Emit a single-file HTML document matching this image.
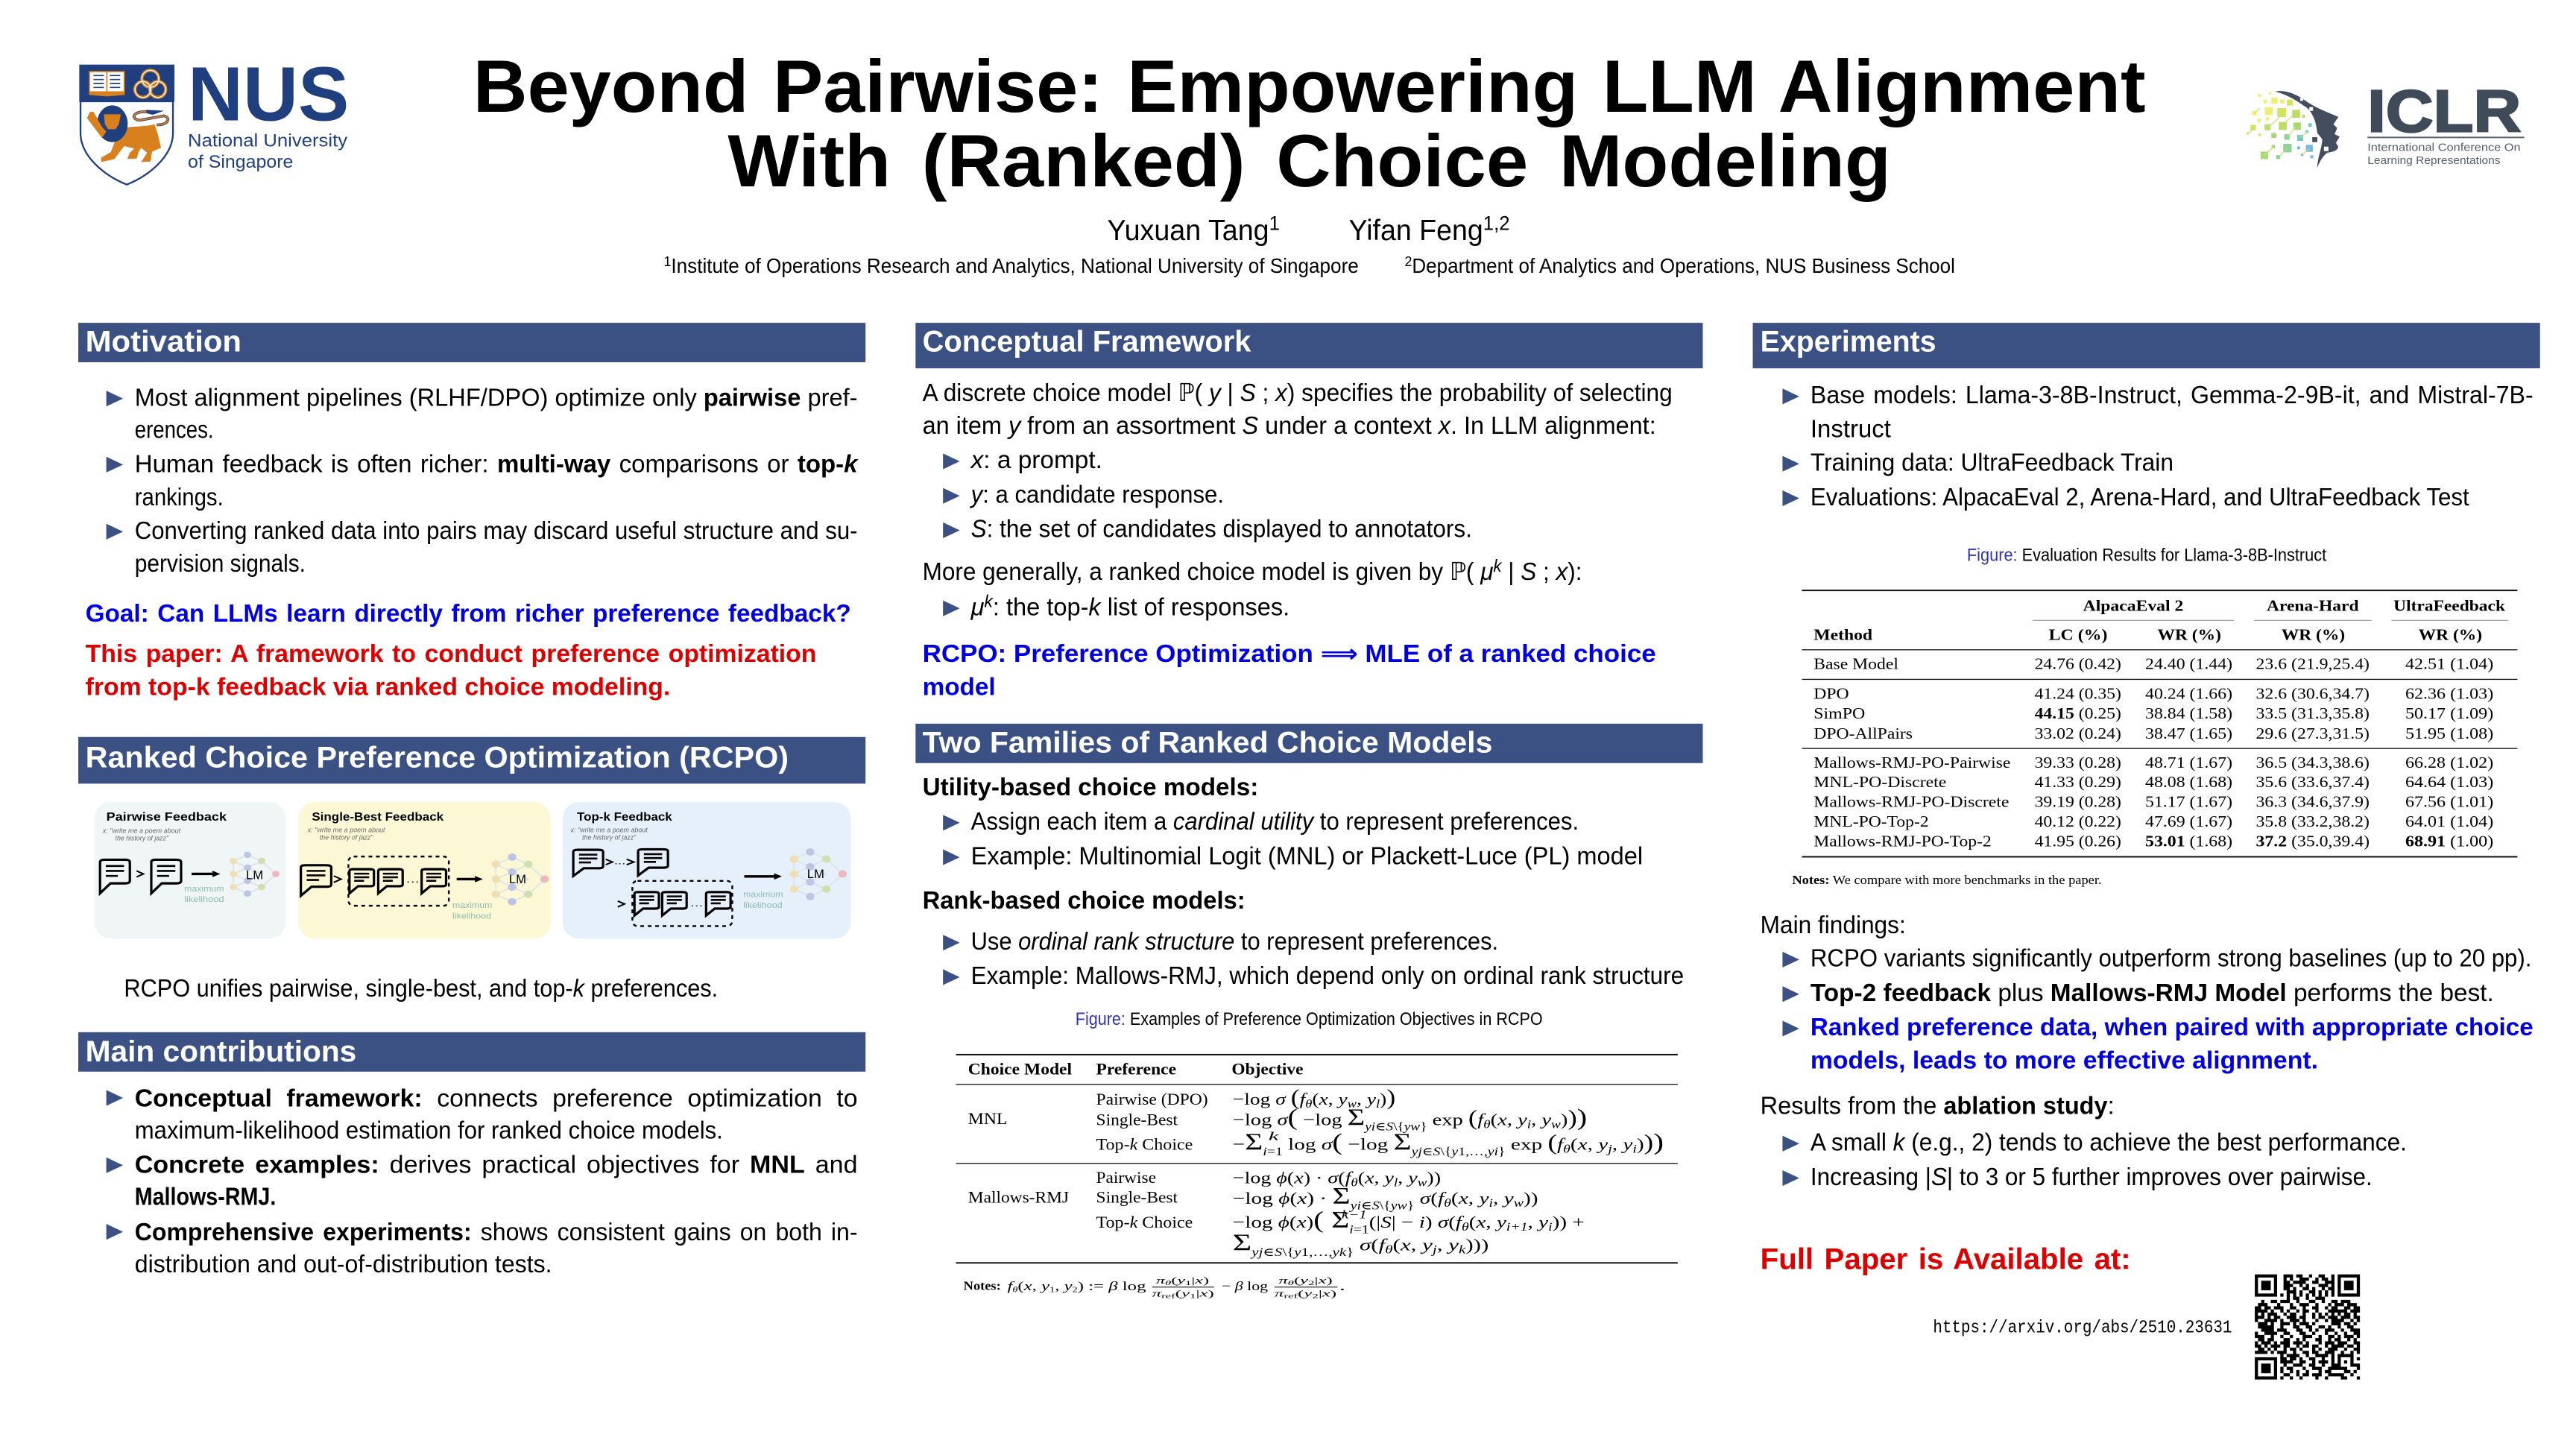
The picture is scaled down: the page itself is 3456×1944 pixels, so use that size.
<!DOCTYPE html>
<html><head><meta charset="utf-8"><title>Beyond Pairwise poster</title>
<style>
html,body{margin:0;padding:0;background:#fff}
svg{display:block}
text{font-family:"Liberation Sans","DejaVu Sans",sans-serif;font-size:15px;fill:#000;white-space:pre}
.b{font-weight:bold}
.i{font-style:italic}
.h{font-weight:bold;font-size:18.2px;fill:#fff}
.bl{fill:#0000e0;font-weight:bold}
.rd{fill:#dd0000;font-weight:bold}
.se text,.se{font-family:"Liberation Serif","DejaVu Serif",serif}
.s{font-size:46px}
.S{font-size:96px}
.P{font-size:88px}
.fb{font-size:30px}
.cap{font-size:72px}
.figt{font-size:48px;font-weight:bold}
.figi{font-size:27px;font-style:italic;fill:#666}
.ml{font-size:32px;fill:#8ebbae}
.lm{font-size:50px}
</style></head><body>
<svg xmlns="http://www.w3.org/2000/svg" width="3456" height="1944" viewBox="0 0 1568 882">
<defs>
<path id="t" d="M0,0L10.2,4.8L0,9.6Z" fill="#3b5183"/>
<g id="bub"><path d="M8,0H48Q57,0 57,10V85Q57,95 48,95H20L0,135V10Q0,0 8,0Z" fill="none" stroke="#000" stroke-width="3.2" vector-effect="non-scaling-stroke"/><path d="M11,25H46M11,45H46M11,65H34" stroke="#000" stroke-width="2.6" vector-effect="non-scaling-stroke"/></g>
<g id="net"><path d="M0,-77L-27,-52L0,-25L-27,0L0,28L-27,53L0,79L27,53L0,28L27,0L0,-25L27,-52Z M-27,-52L-27,0M-27,0L-27,53M27,-52L54,0L27,53" fill="none" stroke="#dfe4ea" stroke-width="2" vector-effect="non-scaling-stroke"/><g fill="#bcc6e4"><ellipse cx="0" cy="-77" rx="7" ry="13"/><ellipse cx="0" cy="-25" rx="7" ry="13"/><ellipse cx="0" cy="28" rx="7" ry="13"/><ellipse cx="0" cy="79" rx="7" ry="13"/></g><g fill="#f0dfb4"><ellipse cx="-27" cy="-52" rx="7" ry="13"/><ellipse cx="-27" cy="0" rx="7" ry="13"/><ellipse cx="-27" cy="53" rx="7" ry="13"/></g><g fill="#cfe0b0"><ellipse cx="27" cy="-52" rx="7" ry="13"/><ellipse cx="27" cy="53" rx="7" ry="13"/></g><ellipse cx="54" cy="0" rx="7" ry="13" fill="#eab9c0"/></g>
</defs>

<!-- NUS logo -->
<g transform="translate(45.38,31.76) scale(.15126)">
<rect x="19" y="50" width="383" height="150" fill="#1f3f7f"/>
<path d="M24,198H396V330C393,420 300,497 210,533C120,497 27,420 24,330Z" fill="#fff" stroke="#1f3f7f" stroke-width="7"/>
<path d="M60,78H130V160H60ZM130,78H200V160H130Z" fill="#fff" stroke="#d87f1e" stroke-width="5"/><path d="M58,160H202V172L130,178L58,172Z" fill="#d87f1e"/>
<path d="M76,94H118M76,110H118M76,126H118M76,142H118M142,94H184M142,110H184M142,126H184M142,142H184" stroke="#1f3f7f" stroke-width="5" fill="none"/>
<g fill="none" stroke="#d87f1e" stroke-width="13"><circle cx="305" cy="107" r="34"/><circle cx="275" cy="150" r="32"/><circle cx="335" cy="150" r="32"/></g>
<g fill="none" stroke="#fff" stroke-width="4"><circle cx="305" cy="107" r="34"/><circle cx="275" cy="150" r="32"/><circle cx="335" cy="150" r="32"/></g>
<path d="M330,292C372,296 392,265 360,256L262,274C225,270 232,236 292,240" fill="none" stroke="#1f3f7f" stroke-width="11"/>
<path d="M330,292C372,296 392,265 360,256L262,274C225,270 232,236 292,240" fill="none" stroke="#d87f1e" stroke-width="6"/>
<path d="M288,232L360,236L315,252L290,246Z" fill="#1f3f7f"/>
<path d="M190,305C240,298 290,300 322,290L335,330L348,385L312,400L306,440L268,442L292,405L268,385L258,402L250,428L212,430L222,405L240,388L200,378L160,430L108,442L106,425L146,402L165,352Z" fill="#d87f1e"/>
<ellipse cx="152" cy="288" rx="62" ry="74" fill="#1f3f7f"/>
<path d="M62,240L76,240L110,300L128,320L110,345L80,305L50,265Z" fill="#d87f1e"/>
<path d="M118,250H186L178,290L165,310H135L122,290Z" fill="#d87f1e"/>
<text x="456" y="275" class="b" style="font-size:308px;fill:#1f3f7f" textLength="649" lengthAdjust="spacingAndGlyphs">NUS</text>
<text x="456" y="380" style="font-size:72px;fill:#1f3f7f" textLength="642" lengthAdjust="spacingAndGlyphs">National University</text>
<text x="456" y="465" style="font-size:72px;fill:#1f3f7f" textLength="424" lengthAdjust="spacingAndGlyphs">of Singapore</text>
</g>

<!-- ICLR logo -->
<g transform="translate(1361.35,45.38) scale(.15126)">
<path d="M155,68C200,60 240,80 270,100C310,130 360,150 410,170L390,200L405,215L395,240L415,250L400,275L410,290C405,310 385,310 365,315C345,330 335,350 325,375C325,340 345,290 345,260L325,235C320,180 300,140 270,125C235,100 200,80 155,68Z" fill="#434d5e"/>
<g fill="#fff"><rect x="256" y="94" width="12" height="12"/><rect x="293" y="131" width="15" height="15"/><rect x="352" y="290" width="18" height="18"/></g>
<g fill="#434d5e"><rect x="305" y="252" width="20" height="20"/><rect x="332" y="222" width="14" height="12"/><rect x="325" y="210" width="10" height="10"/></g>
<g fill="#f0ee72"><rect x="87" y="79" width="12" height="12"/><rect x="130" y="70" width="10" height="10"/><rect x="108" y="101" width="14" height="14"/><rect x="140" y="93" width="25" height="25"/><rect x="176" y="100" width="16" height="16"/><rect x="114" y="131" width="32" height="32"/><rect x="63" y="146" width="18" height="18"/><rect x="117" y="171" width="14" height="14"/><rect x="83" y="178" width="14" height="14"/></g>
<g fill="#d4e45c"><rect x="203" y="101" width="24" height="24"/><rect x="164" y="135" width="36" height="36"/><rect x="56" y="203" width="22" height="22"/><rect x="40" y="232" width="10" height="10"/><rect x="88" y="238" width="10" height="10"/></g>
<g fill="#bcdc66"><rect x="224" y="142" width="32" height="32"/><rect x="113" y="200" width="24" height="24"/><rect x="170" y="191" width="32" height="32"/><rect x="264" y="162" width="12" height="12"/></g>
<g fill="#a6d874"><rect x="229" y="193" width="30" height="30"/><rect x="140" y="235" width="20" height="20"/><rect x="97" y="310" width="30" height="30"/><rect x="141" y="283" width="14" height="14"/></g>
<g fill="#8cd09a"><rect x="192" y="240" width="22" height="22"/><rect x="160" y="324" width="16" height="16"/><rect x="188" y="279" width="34" height="34"/></g>
<g fill="#74c8c4"><rect x="244" y="243" width="24" height="24"/><rect x="289" y="196" width="14" height="14"/><rect x="277" y="224" width="12" height="12"/></g>
<g fill="#74b8e8"><rect x="279" y="283" width="28" height="28"/><rect x="244" y="289" width="12" height="12"/><rect x="259" y="318" width="10" height="10"/><rect x="297" y="325" width="12" height="12"/></g>
<path d="M75,155L95,135M70,214L50,235M130,210L170,175L180,150M185,205L225,165M205,250L240,210M255,255L285,230M112,325L150,290M170,332L205,296M264,323L293,297" stroke="#c6e07a" stroke-width="4" fill="none"/>
<text x="527" y="230" class="b" style="font-size:240px;fill:#3f4b59;stroke:#3f4b59;stroke-width:7px" textLength="618" lengthAdjust="spacingAndGlyphs">ICLR</text>
<rect x="527" y="250" width="631" height="6" fill="#5a6573"/>
<text x="527" y="308" style="font-size:44px;fill:#555f6b" textLength="616" lengthAdjust="spacingAndGlyphs">International Conference On</text>
<text x="527" y="360" style="font-size:44px;fill:#555f6b" textLength="535" lengthAdjust="spacingAndGlyphs">Learning Representations</text>
</g>

<!-- Title -->
<text x="288" y="68" class="b" style="font-size:45px;word-spacing:2px" textLength="1018" lengthAdjust="spacingAndGlyphs">Beyond Pairwise: Empowering LLM Alignment</text>
<text x="443" y="113.4" class="b" style="font-size:45px;word-spacing:6px" textLength="708" lengthAdjust="spacingAndGlyphs">With (Ranked) Choice Modeling</text>
<text x="674" y="146" style="font-size:17.5px" textLength="105" lengthAdjust="spacingAndGlyphs">Yuxuan Tang<tspan dy="-6" style="font-size:12px">1</tspan></text>
<text x="821" y="146" style="font-size:17.5px" textLength="98" lengthAdjust="spacingAndGlyphs">Yifan Feng<tspan dy="-6" style="font-size:12px">1,2</tspan></text>
<text x="404" y="166" style="font-size:12.4px" textLength="423" lengthAdjust="spacingAndGlyphs"><tspan dy="-4" style="font-size:8.5px">1</tspan><tspan dy="4">Institute of Operations Research and Analytics, National University of Singapore</tspan></text>
<text x="855" y="166" style="font-size:12.4px" textLength="335" lengthAdjust="spacingAndGlyphs"><tspan dy="-4" style="font-size:8.5px">2</tspan><tspan dy="4">Department of Analytics and Operations, NUS Business School</tspan></text>

<!-- Banners -->
<g fill="#3b5183">
<rect x="47.65" y="196.5" width="479.2" height="24"/>
<rect x="47.65" y="448.6" width="479.2" height="28.4"/>
<rect x="47.65" y="628.3" width="479.2" height="24"/>
<rect x="557.3" y="196.5" width="479.2" height="27.7"/>
<rect x="557.3" y="440.5" width="479.2" height="24"/>
<rect x="1066.9" y="196.5" width="479.2" height="27.7"/>
</g>
<text x="52" y="214" class="h" textLength="95" lengthAdjust="spacingAndGlyphs">Motivation</text>
<text x="52" y="467" class="h" textLength="428" lengthAdjust="spacingAndGlyphs">Ranked Choice Preference Optimization (RCPO)</text>
<text x="52" y="646" class="h" textLength="165" lengthAdjust="spacingAndGlyphs">Main contributions</text>
<text x="561.5" y="214" class="h" textLength="200" lengthAdjust="spacingAndGlyphs">Conceptual Framework</text>
<text x="561.5" y="458" class="h" textLength="347" lengthAdjust="spacingAndGlyphs">Two Families of Ranked Choice Models</text>
<text x="1071.5" y="214" class="h" textLength="107" lengthAdjust="spacingAndGlyphs">Experiments</text>

<!-- Column 1 -->
<use href="#t" x="64.7" y="237.8"/><use href="#t" x="64.7" y="278"/><use href="#t" x="64.7" y="318.8"/>
<text x="82" y="247" textLength="440" lengthAdjust="spacingAndGlyphs">Most alignment pipelines (RLHF/DPO) optimize only <tspan class="b">pairwise</tspan> pref-</text>
<text x="82" y="266.5" textLength="48" lengthAdjust="spacingAndGlyphs">erences.</text>
<text x="82" y="287.5" style="word-spacing:1px" textLength="440" lengthAdjust="spacingAndGlyphs">Human feedback is often richer: <tspan class="b">multi-way</tspan> comparisons or <tspan class="b">top-</tspan><tspan class="b i">k</tspan></text>
<text x="82" y="307.5" textLength="54" lengthAdjust="spacingAndGlyphs">rankings.</text>
<text x="82" y="328" textLength="440" lengthAdjust="spacingAndGlyphs">Converting ranked data into pairs may discard useful structure and su-</text>
<text x="82" y="348" textLength="104" lengthAdjust="spacingAndGlyphs">pervision signals.</text>
<text x="52" y="378.5" class="bl" style="word-spacing:1px" textLength="466" lengthAdjust="spacingAndGlyphs">Goal: Can LLMs learn directly from richer preference feedback?</text>
<text x="52" y="403" class="rd" style="word-spacing:1px" textLength="445" lengthAdjust="spacingAndGlyphs">This paper: A framework to conduct preference optimization</text>
<text x="52" y="423" class="rd" textLength="356" lengthAdjust="spacingAndGlyphs">from top-k feedback via ranked choice modeling.</text>

<!-- RCPO figure, coordinates from anamorphic crop -->
<g transform="translate(40.84,471.9) scale(.3183,.15126)">
<rect x="52" y="108" width="366" height="550" rx="32" ry="66" fill="#eff6f5"/>
<rect x="442" y="108" width="483" height="550" rx="32" ry="66" fill="#fcf8d6"/>
<rect x="948" y="108" width="551" height="550" rx="32" ry="66" fill="#e6f0fb"/>

<text x="75" y="183" class="figt" textLength="230" lengthAdjust="spacingAndGlyphs">Pairwise Feedback</text>
<text x="68" y="232" class="figi" textLength="149" lengthAdjust="spacingAndGlyphs">x: "write me a poem about</text>
<text x="92" y="262" class="figi" textLength="102" lengthAdjust="spacingAndGlyphs">the history of jazz"</text>
<use href="#net" transform="translate(345,397)"/>
<use href="#bub" transform="translate(63,340)"/>
<use href="#bub" transform="translate(161,340)"/>
<path d="M133,385L146,397L133,409" fill="none" stroke="#000" stroke-width="2" vector-effect="non-scaling-stroke"/>
<path d="M238,397H282" stroke="#000" stroke-width="3.4" vector-effect="non-scaling-stroke"/><path d="M278,384L293,397L278,410Z"/>
<text x="342" y="418" class="lm" textLength="33" lengthAdjust="spacingAndGlyphs">LM</text>
<text x="224" y="467" class="ml" textLength="76" lengthAdjust="spacingAndGlyphs">maximum</text>
<text x="224" y="510" class="ml" textLength="76" lengthAdjust="spacingAndGlyphs">likelihood</text>

<text x="468" y="183" class="figt" textLength="252" lengthAdjust="spacingAndGlyphs">Single-Best Feedback</text>
<text x="460" y="229" class="figi" textLength="148" lengthAdjust="spacingAndGlyphs">x: "write me a poem about</text>
<text x="483" y="259" class="figi" textLength="102" lengthAdjust="spacingAndGlyphs">the history of jazz"</text>
<use href="#net" transform="translate(851,418) scale(1.15)"/>
<use href="#bub" transform="translate(447,362) scale(1.02,.91)"/>
<rect x="538" y="327" width="192" height="198" rx="10" ry="20" fill="none" stroke="#000" stroke-width="2.4" stroke-dasharray="5 5" vector-effect="non-scaling-stroke"/>
<use href="#bub" transform="translate(540,378) scale(.82,.72)"/>
<use href="#bub" transform="translate(595,378) scale(.82,.72)"/>
<use href="#bub" transform="translate(678,378) scale(.82,.72)"/>
<path d="M510,405L524,418L510,431" fill="none" stroke="#000" stroke-width="2" vector-effect="non-scaling-stroke"/>
<text x="648" y="432" style="font-size:40px" textLength="26" lengthAdjust="spacingAndGlyphs">...</text>
<path d="M745,418H785" stroke="#000" stroke-width="3.4" vector-effect="non-scaling-stroke"/><path d="M780,405L795,418L780,431Z"/>
<text x="845" y="435" class="lm" textLength="33" lengthAdjust="spacingAndGlyphs">LM</text>
<text x="737" y="533" class="ml" textLength="76" lengthAdjust="spacingAndGlyphs">maximum</text>
<text x="737" y="577" class="ml" textLength="74" lengthAdjust="spacingAndGlyphs">likelihood</text>

<text x="975" y="183" class="figt" textLength="182" lengthAdjust="spacingAndGlyphs">Top-k Feedback</text>
<text x="963" y="229" class="figi" textLength="147" lengthAdjust="spacingAndGlyphs">x: "write me a poem about</text>
<text x="985" y="259" class="figi" textLength="103" lengthAdjust="spacingAndGlyphs">the history of jazz"</text>
<use href="#net" transform="translate(1421,397) scale(1.15)"/>
<use href="#bub" transform="translate(968,300) scale(1,.78)"/>
<use href="#bub" transform="translate(1092,298) scale(1,.78)"/>
<path d="M1030,338L1043,349L1030,360M1070,338L1084,349L1070,360" fill="none" stroke="#000" stroke-width="2" vector-effect="non-scaling-stroke"/>
<text x="1046" y="358" style="font-size:36px" textLength="22" lengthAdjust="spacingAndGlyphs">...</text>
<path d="M1295,407H1358" stroke="#000" stroke-width="3.4" vector-effect="non-scaling-stroke"/><path d="M1352,394L1367,407L1352,420Z"/>
<rect x="1081" y="425" width="191" height="182" rx="10" ry="20" fill="none" stroke="#000" stroke-width="2.4" stroke-dasharray="5 5" vector-effect="non-scaling-stroke"/>
<path d="M1053,506L1066,518L1053,530" fill="none" stroke="#000" stroke-width="2" vector-effect="non-scaling-stroke"/>
<use href="#bub" transform="translate(1085,470) scale(.82,.7)"/>
<use href="#bub" transform="translate(1138,470) scale(.82,.7)"/>
<use href="#bub" transform="translate(1222,470) scale(.82,.7)"/>
<text x="1192" y="527" style="font-size:36px" textLength="24" lengthAdjust="spacingAndGlyphs">...</text>
<text x="1415" y="413" class="lm" textLength="33" lengthAdjust="spacingAndGlyphs">LM</text>
<text x="1293" y="490" class="ml" textLength="76" lengthAdjust="spacingAndGlyphs">maximum</text>
<text x="1293" y="533" class="ml" textLength="75" lengthAdjust="spacingAndGlyphs">likelihood</text>
</g>
<text x="75.5" y="606.6" textLength="361.5" lengthAdjust="spacingAndGlyphs">RCPO unifies pairwise, single-best, and top-<tspan class="i">k</tspan> preferences.</text>

<use href="#t" x="64.7" y="663.5"/><use href="#t" x="64.7" y="704.5"/><use href="#t" x="64.7" y="745"/>
<text x="82" y="673.5" style="word-spacing:4.5px" textLength="440" lengthAdjust="spacingAndGlyphs"><tspan class="b">Conceptual framework:</tspan> connects preference optimization to</text>
<text x="82" y="693" textLength="358" lengthAdjust="spacingAndGlyphs">maximum-likelihood estimation for ranked choice models.</text>
<text x="82" y="714" style="word-spacing:2px" textLength="440" lengthAdjust="spacingAndGlyphs"><tspan class="b">Concrete examples:</tspan> derives practical objectives for <tspan class="b">MNL</tspan> and</text>
<text x="82" y="733.5" class="b" textLength="86" lengthAdjust="spacingAndGlyphs">Mallows-RMJ.</text>
<text x="82" y="755" style="word-spacing:1.5px" textLength="440" lengthAdjust="spacingAndGlyphs"><tspan class="b">Comprehensive experiments:</tspan> shows consistent gains on both in-</text>
<text x="82" y="774.5" textLength="254" lengthAdjust="spacingAndGlyphs">distribution and out-of-distribution tests.</text>

<!-- Column 2 -->
<text x="561.5" y="244" textLength="456.5" lengthAdjust="spacingAndGlyphs">A discrete choice model ℙ( <tspan class="i">y</tspan> | <tspan class="i">S</tspan> ; <tspan class="i">x</tspan>) specifies the probability of selecting</text>
<text x="561.5" y="264" textLength="446.5" lengthAdjust="spacingAndGlyphs">an item <tspan class="i">y</tspan> from an assortment <tspan class="i">S</tspan> under a context <tspan class="i">x</tspan>. In LLM alignment:</text>
<use href="#t" x="574" y="276"/><use href="#t" x="574" y="297"/><use href="#t" x="574" y="318"/>
<text x="591" y="285" textLength="80" lengthAdjust="spacingAndGlyphs"><tspan class="i">x</tspan>: a prompt.</text>
<text x="591" y="306" textLength="154" lengthAdjust="spacingAndGlyphs"><tspan class="i">y</tspan>: a candidate response.</text>
<text x="591" y="327" textLength="305" lengthAdjust="spacingAndGlyphs"><tspan class="i">S</tspan>: the set of candidates displayed to annotators.</text>
<text x="561.5" y="353" textLength="401.5" lengthAdjust="spacingAndGlyphs">More generally, a ranked choice model is given by ℙ( <tspan class="i">μ</tspan><tspan dy="-5" style="font-size:10.5px" class="i">k</tspan><tspan dy="5"> | </tspan><tspan class="i">S</tspan> ; <tspan class="i">x</tspan>):</text>
<use href="#t" x="574" y="365.5"/>
<text x="591" y="374.5" textLength="194" lengthAdjust="spacingAndGlyphs"><tspan class="i">μ</tspan><tspan dy="-5" style="font-size:10.5px" class="i">k</tspan><tspan dy="5">: the top-</tspan><tspan class="i">k</tspan> list of responses.</text>
<text x="561.5" y="403" class="bl" textLength="446.5" lengthAdjust="spacingAndGlyphs">RCPO: Preference Optimization ⟹ MLE of a ranked choice</text>
<text x="561.5" y="423" class="bl" textLength="44.5" lengthAdjust="spacingAndGlyphs">model</text>
<text x="561.5" y="484" class="b" textLength="204.5" lengthAdjust="spacingAndGlyphs">Utility-based choice models:</text>
<use href="#t" x="574" y="496"/><use href="#t" x="574" y="517"/>
<text x="591" y="505" textLength="370" lengthAdjust="spacingAndGlyphs">Assign each item a <tspan class="i">cardinal utility</tspan> to represent preferences.</text>
<text x="591" y="526" textLength="409" lengthAdjust="spacingAndGlyphs">Example: Multinomial Logit (MNL) or Plackett-Luce (PL) model</text>
<text x="561.5" y="553" class="b" textLength="196.5" lengthAdjust="spacingAndGlyphs">Rank-based choice models:</text>
<use href="#t" x="574" y="569"/><use href="#t" x="574" y="590"/>
<text x="591" y="578" textLength="321" lengthAdjust="spacingAndGlyphs">Use <tspan class="i">ordinal rank structure</tspan> to represent preferences.</text>
<text x="591" y="599" textLength="434" lengthAdjust="spacingAndGlyphs">Example: Mallows-RMJ, which depend only on ordinal rank structure</text>

<!-- Table 1 -->
<g transform="translate(571.77,608.07) scale(.3068,.15126)">
<text x="270" y="105" class="cap" textLength="927" lengthAdjust="spacingAndGlyphs"><tspan style="fill:#3333b2">Figure:</tspan> Examples of Preference Optimization Objectives in RCPO</text>
<g fill="#111"><rect x="33" y="221" width="1432" height="6"/><rect x="33" y="342" width="1432" height="4"/><rect x="33" y="660" width="1432" height="4"/><rect x="33" y="1059" width="1432" height="6"/></g>
<g class="se" style="font-size:68px">
<text class="se b" style="font-size:68px" x="57" y="303" textLength="206" lengthAdjust="spacingAndGlyphs">Choice Model</text>
<text class="se b" style="font-size:68px" x="311" y="303" textLength="159" lengthAdjust="spacingAndGlyphs">Preference</text>
<text class="se b" style="font-size:68px" x="580" y="303" textLength="142" lengthAdjust="spacingAndGlyphs">Objective</text>
<text class="se" style="font-size:68px" x="57" y="503" textLength="78" lengthAdjust="spacingAndGlyphs">MNL</text>
<text class="se" style="font-size:68px" x="311" y="425" textLength="222" lengthAdjust="spacingAndGlyphs">Pairwise (DPO)</text>
<text class="se" style="font-size:68px" x="311" y="507" textLength="162" lengthAdjust="spacingAndGlyphs">Single-Best</text>
<text class="se" style="font-size:68px" x="311" y="607" textLength="192" lengthAdjust="spacingAndGlyphs">Top-<tspan class="i">k</tspan> Choice</text>
<text class="se" style="font-size:68px" x="57" y="820" textLength="200" lengthAdjust="spacingAndGlyphs">Mallows-RMJ</text>
<text class="se" style="font-size:68px" x="311" y="740" textLength="119" lengthAdjust="spacingAndGlyphs">Pairwise</text>
<text class="se" style="font-size:68px" x="311" y="820" textLength="162" lengthAdjust="spacingAndGlyphs">Single-Best</text>
<text class="se" style="font-size:68px" x="311" y="920" textLength="192" lengthAdjust="spacingAndGlyphs">Top-<tspan class="i">k</tspan> Choice</text>

<text class="se" style="font-size:68px" x="582" y="425" textLength="323" lengthAdjust="spacingAndGlyphs">−log <tspan class="i">σ</tspan> <tspan class="P">(</tspan><tspan class="i">f</tspan><tspan class="s i" dy="12">θ</tspan><tspan dy="-12">(</tspan><tspan class="i">x</tspan>, <tspan class="i">y</tspan><tspan class="s i" dy="12">w</tspan><tspan dy="-12">, </tspan><tspan class="i">y</tspan><tspan class="s i" dy="12">l</tspan><tspan dy="-12">)</tspan><tspan class="P">)</tspan></text>
<text class="se" style="font-size:68px" x="582" y="507" textLength="703" lengthAdjust="spacingAndGlyphs">−log <tspan class="i">σ</tspan><tspan class="S">(</tspan> −log <tspan class="S">Σ</tspan><tspan class="s i" dy="22">y</tspan><tspan class="s i">i</tspan><tspan class="s">∈</tspan><tspan class="s i">S</tspan><tspan class="s">\{</tspan><tspan class="s i">y</tspan><tspan class="s i">w</tspan><tspan class="s">}</tspan><tspan dy="-22"> exp </tspan><tspan class="P">(</tspan><tspan class="i">f</tspan><tspan class="s i" dy="12">θ</tspan><tspan dy="-12">(</tspan><tspan class="i">x</tspan>, <tspan class="i">y</tspan><tspan class="s i" dy="12">i</tspan><tspan dy="-12">, </tspan><tspan class="i">y</tspan><tspan class="s i" dy="12">w</tspan><tspan dy="-12">)</tspan><tspan class="P">)</tspan><tspan class="S">)</tspan></text>
<text class="se" style="font-size:68px" x="582" y="607" textLength="855" lengthAdjust="spacingAndGlyphs">−<tspan class="S">Σ</tspan><tspan class="s i" dy="22">i</tspan><tspan class="s">=1</tspan><tspan dy="-22"> log </tspan><tspan class="i">σ</tspan><tspan class="S">(</tspan> −log <tspan class="S">Σ</tspan><tspan class="s i" dy="22">y</tspan><tspan class="s i">j</tspan><tspan class="s">∈</tspan><tspan class="s i">S</tspan><tspan class="s">\{</tspan><tspan class="s i">y</tspan><tspan class="s">1,…,</tspan><tspan class="s i">y</tspan><tspan class="s i">i</tspan><tspan class="s">}</tspan><tspan dy="-22"> exp </tspan><tspan class="P">(</tspan><tspan class="i">f</tspan><tspan class="s i" dy="12">θ</tspan><tspan dy="-12">(</tspan><tspan class="i">x</tspan>, <tspan class="i">y</tspan><tspan class="s i" dy="12">j</tspan><tspan dy="-12">, </tspan><tspan class="i">y</tspan><tspan class="s i" dy="12">i</tspan><tspan dy="-12">)</tspan><tspan class="P">)</tspan><tspan class="S">)</tspan></text>
<text class="se i" style="font-size:46px" x="653" y="568">k</text>
<text class="se" style="font-size:68px" x="582" y="742" textLength="413" lengthAdjust="spacingAndGlyphs">−log <tspan class="i">ϕ</tspan>(<tspan class="i">x</tspan>) · <tspan class="i">σ</tspan>(<tspan class="i">f</tspan><tspan class="s i" dy="12">θ</tspan><tspan dy="-12">(</tspan><tspan class="i">x</tspan>, <tspan class="i">y</tspan><tspan class="s i" dy="12">l</tspan><tspan dy="-12">, </tspan><tspan class="i">y</tspan><tspan class="s i" dy="12">w</tspan><tspan dy="-12">))</tspan></text>
<text class="se" style="font-size:68px" x="582" y="824" textLength="606" lengthAdjust="spacingAndGlyphs">−log <tspan class="i">ϕ</tspan>(<tspan class="i">x</tspan>) · <tspan class="S">Σ</tspan><tspan class="s i" dy="22">y</tspan><tspan class="s i">i</tspan><tspan class="s">∈</tspan><tspan class="s i">S</tspan><tspan class="s">\{</tspan><tspan class="s i">y</tspan><tspan class="s i">w</tspan><tspan class="s">}</tspan><tspan dy="-22"> </tspan><tspan class="i">σ</tspan>(<tspan class="i">f</tspan><tspan class="s i" dy="12">θ</tspan><tspan dy="-12">(</tspan><tspan class="i">x</tspan>, <tspan class="i">y</tspan><tspan class="s i" dy="12">i</tspan><tspan dy="-12">, </tspan><tspan class="i">y</tspan><tspan class="s i" dy="12">w</tspan><tspan dy="-12">))</tspan></text>
<text class="se" style="font-size:68px" x="582" y="920" textLength="698" lengthAdjust="spacingAndGlyphs">−log <tspan class="i">ϕ</tspan>(<tspan class="i">x</tspan>)<tspan class="S">( Σ</tspan><tspan class="s i" dy="22">i</tspan><tspan class="s">=1</tspan><tspan dy="-22">(|</tspan><tspan class="i">S</tspan>| − <tspan class="i">i</tspan>) <tspan class="i">σ</tspan>(<tspan class="i">f</tspan><tspan class="s i" dy="12">θ</tspan><tspan dy="-12">(</tspan><tspan class="i">x</tspan>, <tspan class="i">y</tspan><tspan class="s i" dy="12">i+1</tspan><tspan dy="-12">, </tspan><tspan class="i">y</tspan><tspan class="s i" dy="12">i</tspan><tspan dy="-12">)) +</tspan></text>
<text class="se i" style="font-size:46px" x="798" y="882" textLength="50" lengthAdjust="spacingAndGlyphs">k−1</text>
<text class="se" style="font-size:68px" x="582" y="1012" textLength="508" lengthAdjust="spacingAndGlyphs"><tspan class="S">Σ</tspan><tspan class="s i" dy="22">y</tspan><tspan class="s i">j</tspan><tspan class="s">∈</tspan><tspan class="s i">S</tspan><tspan class="s">\{</tspan><tspan class="s i">y</tspan><tspan class="s">1,…,</tspan><tspan class="s i">y</tspan><tspan class="s i">k</tspan><tspan class="s">}</tspan><tspan dy="-22"> </tspan><tspan class="i">σ</tspan>(<tspan class="i">f</tspan><tspan class="s i" dy="12">θ</tspan><tspan dy="-12">(</tspan><tspan class="i">x</tspan>, <tspan class="i">y</tspan><tspan class="s i" dy="12">j</tspan><tspan dy="-12">, </tspan><tspan class="i">y</tspan><tspan class="s i" dy="12">k</tspan><tspan dy="-12">)))</tspan></text>

<text class="se b" style="font-size:52px" x="48" y="1170" textLength="74" lengthAdjust="spacingAndGlyphs">Notes:</text>
<text class="se" style="font-size:52px" x="135" y="1172" textLength="275" lengthAdjust="spacingAndGlyphs"><tspan class="i">f</tspan><tspan class="fb i" dy="8">θ</tspan><tspan dy="-8">(</tspan><tspan class="i">x</tspan>, <tspan class="i">y</tspan><tspan class="fb" dy="8">1</tspan><tspan dy="-8">, </tspan><tspan class="i">y</tspan><tspan class="fb" dy="8">2</tspan><tspan dy="-8">) := </tspan><tspan class="i">β</tspan> log</text>
<rect x="422" y="1158" width="123" height="3"/>
<text class="se" style="font-size:38px" x="430" y="1145" textLength="105" lengthAdjust="spacingAndGlyphs"><tspan class="i">π</tspan><tspan class="i" dy="6" style="font-size:26px">θ</tspan><tspan dy="-6">(</tspan><tspan class="i">y</tspan><tspan dy="6" style="font-size:26px">1</tspan><tspan dy="-6">|</tspan><tspan class="i">x</tspan>)</text>
<text class="se" style="font-size:38px" x="422" y="1198" textLength="123" lengthAdjust="spacingAndGlyphs"><tspan class="i">π</tspan><tspan dy="6" style="font-size:26px">ref</tspan><tspan dy="-6">(</tspan><tspan class="i">y</tspan><tspan dy="6" style="font-size:26px">1</tspan><tspan dy="-6">|</tspan><tspan class="i">x</tspan>)</text>
<text class="se" style="font-size:52px" x="560" y="1172" textLength="92" lengthAdjust="spacingAndGlyphs">− <tspan class="i">β</tspan> log</text>
<rect x="665" y="1158" width="125" height="3"/>
<text class="se" style="font-size:38px" x="673" y="1145" textLength="107" lengthAdjust="spacingAndGlyphs"><tspan class="i">π</tspan><tspan class="i" dy="6" style="font-size:26px">θ</tspan><tspan dy="-6">(</tspan><tspan class="i">y</tspan><tspan dy="6" style="font-size:26px">2</tspan><tspan dy="-6">|</tspan><tspan class="i">x</tspan>)</text>
<text class="se" style="font-size:38px" x="665" y="1198" textLength="123" lengthAdjust="spacingAndGlyphs"><tspan class="i">π</tspan><tspan dy="6" style="font-size:26px">ref</tspan><tspan dy="-6">(</tspan><tspan class="i">y</tspan><tspan dy="6" style="font-size:26px">2</tspan><tspan dy="-6">|</tspan><tspan class="i">x</tspan>)</text>
<text class="se" style="font-size:52px" x="793" y="1172">.</text>
</g>
</g>

<!-- Column 3 -->
<use href="#t" x="1085" y="236.5"/><use href="#t" x="1085" y="277.5"/><use href="#t" x="1085" y="298.5"/>
<text x="1102" y="245.5" style="word-spacing:1px" textLength="440" lengthAdjust="spacingAndGlyphs">Base models: Llama-3-8B-Instruct, Gemma-2-9B-it, and Mistral-7B-</text>
<text x="1102" y="266" textLength="49" lengthAdjust="spacingAndGlyphs">Instruct</text>
<text x="1102" y="286.5" textLength="221" lengthAdjust="spacingAndGlyphs">Training data: UltraFeedback Train</text>
<text x="1102" y="307.5" textLength="401" lengthAdjust="spacingAndGlyphs">Evaluations: AlpacaEval 2, Arena-Hard, and UltraFeedback Test</text>

<!-- Table 2 -->
<g transform="translate(1089.07,326.7) scale(.2981,.15126)">
<text x="363" y="98" class="cap" textLength="734" lengthAdjust="spacingAndGlyphs"><tspan style="fill:#3333b2">Figure:</tspan> Evaluation Results for Llama-3-8B-Instruct</text>
<g fill="#111"><rect x="26" y="213" width="1461" height="6"/><rect x="26" y="453" width="1461" height="4"/><rect x="26" y="572" width="1461" height="4"/><rect x="26" y="850" width="1461" height="4"/><rect x="26" y="1285" width="1461" height="6"/></g>
<g fill="#888"><rect x="497" y="335" width="411" height="3"/><rect x="949" y="335" width="240" height="3"/><rect x="1230" y="335" width="238" height="3"/></g>
<g>
<text class="se b" style="font-size:64px" x="600" y="298" textLength="205" lengthAdjust="spacingAndGlyphs">AlpacaEval 2</text>
<text class="se b" style="font-size:64px" x="975" y="298" textLength="188" lengthAdjust="spacingAndGlyphs">Arena-Hard</text>
<text class="se b" style="font-size:64px" x="1234" y="298" textLength="228" lengthAdjust="spacingAndGlyphs">UltraFeedback</text>
<text class="se b" style="font-size:64px" x="50" y="415" textLength="120" lengthAdjust="spacingAndGlyphs">Method</text>
<text class="se b" style="font-size:64px" x="530" y="415" textLength="120" lengthAdjust="spacingAndGlyphs">LC (%)</text>
<text class="se b" style="font-size:64px" x="752" y="415" textLength="130" lengthAdjust="spacingAndGlyphs">WR (%)</text>
<text class="se b" style="font-size:64px" x="1005" y="415" textLength="130" lengthAdjust="spacingAndGlyphs">WR (%)</text>
<text class="se b" style="font-size:64px" x="1285" y="415" textLength="130" lengthAdjust="spacingAndGlyphs">WR (%)</text>

<text class="se" style="font-size:64px" x="50" y="532" textLength="173" lengthAdjust="spacingAndGlyphs">Base Model</text>
<text class="se" style="font-size:64px" x="501" y="532" textLength="177" lengthAdjust="spacingAndGlyphs">24.76 (0.42)</text>
<text class="se" style="font-size:64px" x="727" y="532" textLength="178" lengthAdjust="spacingAndGlyphs">24.40 (1.44)</text>
<text class="se" style="font-size:64px" x="953" y="532" textLength="232" lengthAdjust="spacingAndGlyphs">23.6 (21.9,25.4)</text>
<text class="se" style="font-size:64px" x="1258" y="532" textLength="180" lengthAdjust="spacingAndGlyphs">42.51 (1.04)</text>

<text class="se" style="font-size:64px" x="50" y="652" textLength="72" lengthAdjust="spacingAndGlyphs">DPO</text>
<text class="se" style="font-size:64px" x="501" y="652" textLength="177" lengthAdjust="spacingAndGlyphs">41.24 (0.35)</text>
<text class="se" style="font-size:64px" x="727" y="652" textLength="178" lengthAdjust="spacingAndGlyphs">40.24 (1.66)</text>
<text class="se" style="font-size:64px" x="953" y="652" textLength="232" lengthAdjust="spacingAndGlyphs">32.6 (30.6,34.7)</text>
<text class="se" style="font-size:64px" x="1258" y="652" textLength="180" lengthAdjust="spacingAndGlyphs">62.36 (1.03)</text>

<text class="se" style="font-size:64px" x="50" y="732" textLength="105" lengthAdjust="spacingAndGlyphs">SimPO</text>
<text class="se" style="font-size:64px" x="501" y="732" textLength="177" lengthAdjust="spacingAndGlyphs"><tspan class="b">44.15</tspan> (0.25)</text>
<text class="se" style="font-size:64px" x="727" y="732" textLength="178" lengthAdjust="spacingAndGlyphs">38.84 (1.58)</text>
<text class="se" style="font-size:64px" x="953" y="732" textLength="232" lengthAdjust="spacingAndGlyphs">33.5 (31.3,35.8)</text>
<text class="se" style="font-size:64px" x="1258" y="732" textLength="180" lengthAdjust="spacingAndGlyphs">50.17 (1.09)</text>

<text class="se" style="font-size:64px" x="50" y="812" textLength="202" lengthAdjust="spacingAndGlyphs">DPO-AllPairs</text>
<text class="se" style="font-size:64px" x="501" y="812" textLength="177" lengthAdjust="spacingAndGlyphs">33.02 (0.24)</text>
<text class="se" style="font-size:64px" x="727" y="812" textLength="178" lengthAdjust="spacingAndGlyphs">38.47 (1.65)</text>
<text class="se" style="font-size:64px" x="953" y="812" textLength="232" lengthAdjust="spacingAndGlyphs">29.6 (27.3,31.5)</text>
<text class="se" style="font-size:64px" x="1258" y="812" textLength="180" lengthAdjust="spacingAndGlyphs">51.95 (1.08)</text>

<text class="se" style="font-size:64px" x="50" y="930" textLength="402" lengthAdjust="spacingAndGlyphs">Mallows-RMJ-PO-Pairwise</text>
<text class="se" style="font-size:64px" x="501" y="930" textLength="177" lengthAdjust="spacingAndGlyphs">39.33 (0.28)</text>
<text class="se" style="font-size:64px" x="727" y="930" textLength="178" lengthAdjust="spacingAndGlyphs">48.71 (1.67)</text>
<text class="se" style="font-size:64px" x="953" y="930" textLength="232" lengthAdjust="spacingAndGlyphs">36.5 (34.3,38.6)</text>
<text class="se" style="font-size:64px" x="1258" y="930" textLength="180" lengthAdjust="spacingAndGlyphs">66.28 (1.02)</text>

<text class="se" style="font-size:64px" x="50" y="1008" textLength="271" lengthAdjust="spacingAndGlyphs">MNL-PO-Discrete</text>
<text class="se" style="font-size:64px" x="501" y="1008" textLength="177" lengthAdjust="spacingAndGlyphs">41.33 (0.29)</text>
<text class="se" style="font-size:64px" x="727" y="1008" textLength="178" lengthAdjust="spacingAndGlyphs">48.08 (1.68)</text>
<text class="se" style="font-size:64px" x="953" y="1008" textLength="232" lengthAdjust="spacingAndGlyphs">35.6 (33.6,37.4)</text>
<text class="se" style="font-size:64px" x="1258" y="1008" textLength="180" lengthAdjust="spacingAndGlyphs">64.64 (1.03)</text>

<text class="se" style="font-size:64px" x="50" y="1087" textLength="399" lengthAdjust="spacingAndGlyphs">Mallows-RMJ-PO-Discrete</text>
<text class="se" style="font-size:64px" x="501" y="1087" textLength="177" lengthAdjust="spacingAndGlyphs">39.19 (0.28)</text>
<text class="se" style="font-size:64px" x="727" y="1087" textLength="178" lengthAdjust="spacingAndGlyphs">51.17 (1.67)</text>
<text class="se" style="font-size:64px" x="953" y="1087" textLength="232" lengthAdjust="spacingAndGlyphs">36.3 (34.6,37.9)</text>
<text class="se" style="font-size:64px" x="1258" y="1087" textLength="180" lengthAdjust="spacingAndGlyphs">67.56 (1.01)</text>

<text class="se" style="font-size:64px" x="50" y="1167" textLength="235" lengthAdjust="spacingAndGlyphs">MNL-PO-Top-2</text>
<text class="se" style="font-size:64px" x="501" y="1167" textLength="177" lengthAdjust="spacingAndGlyphs">40.12 (0.22)</text>
<text class="se" style="font-size:64px" x="727" y="1167" textLength="178" lengthAdjust="spacingAndGlyphs">47.69 (1.67)</text>
<text class="se" style="font-size:64px" x="953" y="1167" textLength="232" lengthAdjust="spacingAndGlyphs">35.8 (33.2,38.2)</text>
<text class="se" style="font-size:64px" x="1258" y="1167" textLength="180" lengthAdjust="spacingAndGlyphs">64.01 (1.04)</text>

<text class="se" style="font-size:64px" x="50" y="1246" textLength="363" lengthAdjust="spacingAndGlyphs">Mallows-RMJ-PO-Top-2</text>
<text class="se" style="font-size:64px" x="501" y="1246" textLength="177" lengthAdjust="spacingAndGlyphs">41.95 (0.26)</text>
<text class="se" style="font-size:64px" x="727" y="1246" textLength="178" lengthAdjust="spacingAndGlyphs"><tspan class="b">53.01</tspan> (1.68)</text>
<text class="se" style="font-size:64px" x="953" y="1246" textLength="232" lengthAdjust="spacingAndGlyphs"><tspan class="b">37.2</tspan> (35.0,39.4)</text>
<text class="se" style="font-size:64px" x="1258" y="1246" textLength="180" lengthAdjust="spacingAndGlyphs"><tspan class="b">68.91</tspan> (1.00)</text>

<text class="se" style="font-size:50px" x="6" y="1397" textLength="632" lengthAdjust="spacingAndGlyphs"><tspan class="b">Notes:</tspan> We compare with more benchmarks in the paper.</text>
</g>
</g>

<text x="1071.5" y="568" textLength="88.5" lengthAdjust="spacingAndGlyphs">Main findings:</text>
<use href="#t" x="1085" y="579.3"/><use href="#t" x="1085" y="600.3"/><use href="#t" x="1085" y="621.3"/>
<text x="1102" y="588.3" textLength="439" lengthAdjust="spacingAndGlyphs">RCPO variants significantly outperform strong baselines (up to 20 pp).</text>
<text x="1102" y="609.3" textLength="416" lengthAdjust="spacingAndGlyphs"><tspan class="b">Top-2 feedback</tspan> plus <tspan class="b">Mallows-RMJ Model</tspan> performs the best.</text>
<text x="1102" y="630.3" class="bl" textLength="440" lengthAdjust="spacingAndGlyphs">Ranked preference data, when paired with appropriate choice</text>
<text x="1102" y="650.3" class="bl" textLength="309" lengthAdjust="spacingAndGlyphs">models, leads to more effective alignment.</text>
<text x="1071.5" y="678" textLength="215.5" lengthAdjust="spacingAndGlyphs">Results from the <tspan class="b">ablation study</tspan>:</text>
<use href="#t" x="1085" y="691.3"/><use href="#t" x="1085" y="712.3"/>
<text x="1102" y="700.3" textLength="363" lengthAdjust="spacingAndGlyphs">A small <tspan class="i">k</tspan> (e.g., 2) tends to achieve the best performance.</text>
<text x="1102" y="721.3" textLength="342" lengthAdjust="spacingAndGlyphs">Increasing |<tspan class="i">S</tspan>| to 3 or 5 further improves over pairwise.</text>
<text x="1071.5" y="772.5" class="rd" style="font-size:18.2px;word-spacing:1.5px" textLength="225.5" lengthAdjust="spacingAndGlyphs">Full Paper is Available at:</text>
<text x="1176.6" y="811" style="font-family:'Liberation Mono','DejaVu Sans Mono',monospace;font-size:10.8px" textLength="182" lengthAdjust="spacingAndGlyphs">https://arxiv.org/abs/2510.23631</text>

<!-- QR -->
<g transform="translate(1372.5,775.7) scale(1.939)">
<path fill="none" stroke="#000" stroke-width="1" d="M0 .5h7M0 1.5h1M6 1.5h1M0 2.5h1M2 2.5h3M6 2.5h1M0 3.5h1M2 3.5h3M6 3.5h1M0 4.5h1M2 4.5h3M6 4.5h1M0 5.5h1M6 5.5h1M0 6.5h7
M26 .5h7M26 1.5h1M32 1.5h1M26 2.5h1M28 2.5h3M32 2.5h1M26 3.5h1M28 3.5h3M32 3.5h1M26 4.5h1M28 4.5h3M32 4.5h1M26 5.5h1M32 5.5h1M26 6.5h7
M0 26.5h7M0 27.5h1M6 27.5h1M0 28.5h1M2 28.5h3M6 28.5h1M0 29.5h1M2 29.5h3M6 29.5h1M0 30.5h1M2 30.5h3M6 30.5h1M0 31.5h1M6 31.5h1M0 32.5h7
M9 .5h3M13 .5h2M17 .5h1M20 .5h2M24 .5h1
M9 1.5h1M11 1.5h1M14 1.5h3M19 1.5h1M21 1.5h2M24 1.5h1
M9 2.5h2M12 2.5h4M18 2.5h2M22 2.5h3
M9 3.5h3M14 3.5h1M16 3.5h1M20 3.5h3M24 3.5h1
M9 4.5h2M12 4.5h1M15 4.5h2M18 4.5h1M21 4.5h1M23 4.5h2
M10 5.5h3M14 5.5h1M17 5.5h2M20 5.5h1M22 5.5h1M24 5.5h1
M8 6.5h1M10 6.5h1M12 6.5h1M14 6.5h1M16 6.5h1M18 6.5h1M20 6.5h1M22 6.5h1M24 6.5h1
M10 7.5h1M12 7.5h2M16 7.5h1M19 7.5h3
M2 8.5h1M5 8.5h2M8 8.5h3M13 8.5h1M17 8.5h2M21 8.5h1M24 8.5h2M27 8.5h3
M1 9.5h3M7 9.5h1M11 9.5h1M14 9.5h3M19 9.5h1M23 9.5h1M25 9.5h3M29 9.5h3
M0 10.5h2M3 10.5h2M6 10.5h3M11 10.5h2M15 10.5h1M18 10.5h2M22 10.5h1M24 10.5h2M28 10.5h2M31 10.5h2
M0 11.5h4M5 11.5h1M8 11.5h1M10 11.5h1M13 11.5h1M15 11.5h2M19 11.5h1M23 11.5h3M26 11.5h3M30 11.5h3
M0 12.5h1M2 12.5h1M4 12.5h3M9 12.5h1M11 12.5h2M15 12.5h1M18 12.5h1M20 12.5h1M22 12.5h1M24 12.5h1M26 12.5h1M28 12.5h2M31 12.5h1
M0 13.5h3M4 13.5h1M6 13.5h2M10 13.5h3M14 13.5h2M18 13.5h1M20 13.5h2M23 13.5h3M27 13.5h3M31 13.5h2
M0 14.5h1M3 14.5h4M8 14.5h1M11 14.5h3M15 14.5h1M19 14.5h1M22 14.5h1M24 14.5h4M30 14.5h1M32 14.5h1
M1 15.5h3M5 15.5h1M8 15.5h3M12 15.5h1M14 15.5h3M18 15.5h1M24 15.5h3M28 15.5h2M31 15.5h1
M1 16.5h5M8 16.5h1M12 16.5h2M16 16.5h2M20 16.5h2M23 16.5h1M26 16.5h1M29 16.5h2
M2 17.5h4M7 17.5h3M13 17.5h2M17 17.5h1M19 17.5h1M22 17.5h3M27 17.5h1M30 17.5h3
M0 18.5h1M3 18.5h4M9 18.5h2M14 18.5h2M18 18.5h1M22 18.5h1M25 18.5h1M28 18.5h1M31 18.5h2
M0 19.5h3M5 19.5h1M8 19.5h1M11 19.5h1M15 19.5h3M20 19.5h1M23 19.5h2M26 19.5h1M28 19.5h3M32 19.5h1
M1 20.5h2M4 20.5h2M9 20.5h2M13 20.5h1M15 20.5h1M19 20.5h2M23 20.5h1M25 20.5h2M29 20.5h1M31 20.5h1
M0 21.5h1M2 21.5h3M6 21.5h1M8 21.5h3M12 21.5h3M16 21.5h1M20 21.5h1M22 21.5h3M26 21.5h3M31 21.5h2
M0 22.5h2M3 22.5h1M5 22.5h3M9 22.5h2M13 22.5h1M15 22.5h2M18 22.5h2M22 22.5h1M24 22.5h4M29 22.5h2M32 22.5h1
M1 23.5h2M4 23.5h1M6 23.5h1M9 23.5h1M11 23.5h2M14 23.5h1M18 23.5h1M20 23.5h1M23 23.5h3M28 23.5h1M31 23.5h2
M0 24.5h4M5 24.5h1M7 24.5h3M12 24.5h1M15 24.5h2M18 24.5h2M22 24.5h3M27 24.5h1M30 24.5h1M32 24.5h1
M8 25.5h1M10 25.5h4M16 25.5h1M19 25.5h4M24 25.5h1M26 25.5h5
M8 26.5h2M11 26.5h2M14 26.5h1M17 26.5h2M21 26.5h1M24 26.5h1M26 26.5h1M30 26.5h1M32 26.5h1
M8 27.5h4M14 27.5h2M18 27.5h1M20 27.5h3M24 27.5h1M26 27.5h1M28 27.5h1M30 27.5h1
M9 28.5h1M12 28.5h3M17 28.5h2M21 28.5h1M24 28.5h3M30 28.5h3
M8 29.5h1M10 29.5h2M15 29.5h1M18 29.5h3M23 29.5h6M32 29.5h1
M8 30.5h1M11 30.5h1M13 30.5h1M16 30.5h1M20 30.5h1M22 30.5h2M28 30.5h2M31 30.5h1
M9 31.5h2M13 31.5h1M15 31.5h2M18 31.5h3M23 31.5h5M30 31.5h1
M8 32.5h1M11 32.5h1M14 32.5h1M19 32.5h1M22 32.5h1M27 32.5h2M32 32.5h1"/>
</g>
</svg>
</body></html>
